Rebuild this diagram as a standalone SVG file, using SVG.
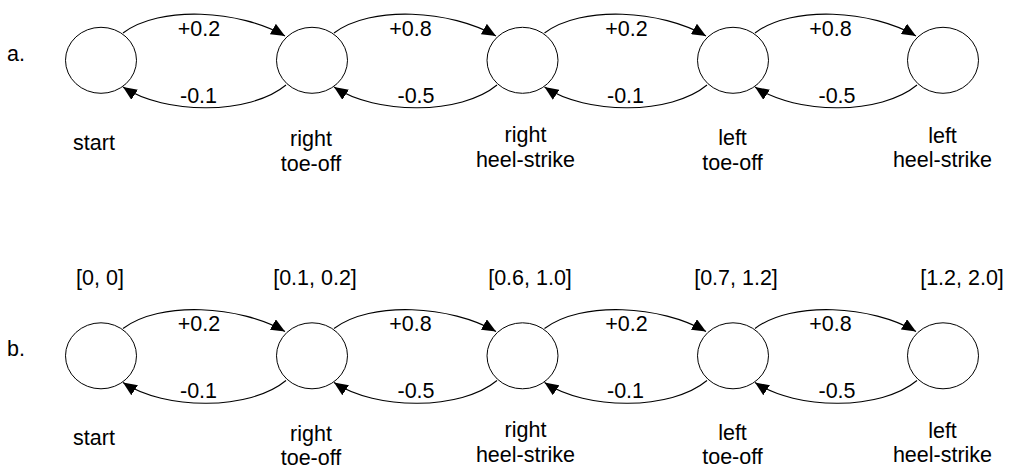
<svg xmlns="http://www.w3.org/2000/svg" width="1012" height="469" viewBox="0 0 1012 469">
<defs>
<style>
text{font-family:"Liberation Sans",Arial,sans-serif;font-size:21.5px;fill:#000}
.m{text-anchor:middle}
.n{fill:#fff;stroke:#000;stroke-width:1}
.e{fill:none;stroke:#000;stroke-width:1.1;marker-end:url(#ah)}
</style>
<marker id="ah" viewBox="0 0 14 12" refX="14" refY="6" markerWidth="14" markerHeight="12" markerUnits="userSpaceOnUse" orient="auto">
<path d="M0,0 L14,6 L0,12 Z" fill="#000"/>
</marker>
</defs>
<rect width="1012" height="469" fill="#fff"/>
<text x="7" y="61">a.</text>
<text x="7" y="356">b.</text>
<g id="connectors">
<g id="row-a-edges">
<path class="e" d="M123,33 C160,5 240,10 285,36"/>
<path class="e" d="M286,85 C250,115 165,115 123,87"/>
<path class="e" d="M334,33 C371,5 451,10 496,36"/>
<path class="e" d="M497,85 C461,115 376,115 334,87"/>
<path class="e" d="M544.5,33 C581.5,5 661.5,10 706,36"/>
<path class="e" d="M707,85 C671,115 586.5,115 544.5,87"/>
<path class="e" d="M755,33 C792,5 872,10 916,36"/>
<path class="e" d="M917,85 C881,115 797,115 755,87"/>
</g>
<g id="row-b-edges" transform="translate(0,295.5)">
<path class="e" d="M123,33 C160,5 240,10 285,36"/>
<path class="e" d="M286,85 C250,115 165,115 123,87"/>
<path class="e" d="M334,33 C371,5 451,10 496,36"/>
<path class="e" d="M497,85 C461,115 376,115 334,87"/>
<path class="e" d="M544.5,33 C581.5,5 661.5,10 706,36"/>
<path class="e" d="M707,85 C671,115 586.5,115 544.5,87"/>
<path class="e" d="M755,33 C792,5 872,10 916,36"/>
<path class="e" d="M917,85 C881,115 797,115 755,87"/>
</g>
</g>
<g id="edge-labels">
<text class="m" x="199" y="36">+0.2</text>
<text class="m" x="198.5" y="103">-0.1</text>
<text class="m" x="410.5" y="36">+0.8</text>
<text class="m" x="416" y="103">-0.5</text>
<text class="m" x="626.5" y="36">+0.2</text>
<text class="m" x="625.5" y="103">-0.1</text>
<text class="m" x="830.5" y="36">+0.8</text>
<text class="m" x="837" y="103">-0.5</text>
<text class="m" x="199" y="331">+0.2</text>
<text class="m" x="198.5" y="398">-0.1</text>
<text class="m" x="410.5" y="331">+0.8</text>
<text class="m" x="416" y="398">-0.5</text>
<text class="m" x="626.5" y="331">+0.2</text>
<text class="m" x="625.5" y="398">-0.1</text>
<text class="m" x="830.5" y="331">+0.8</text>
<text class="m" x="837" y="398">-0.5</text>
</g>
<g id="a-start"><ellipse class="n" cx="101" cy="60.3" rx="35.5" ry="33"/><text class="m" x="94" y="150">start</text></g>
<g id="a-right-toe-off"><ellipse class="n" cx="312" cy="60.3" rx="35.5" ry="33"/><text class="m" x="311" y="146">right</text><text class="m" x="311" y="171">toe-off</text></g>
<g id="a-right-heel-strike"><ellipse class="n" cx="522.5" cy="60.3" rx="35.5" ry="33"/><text class="m" x="525.5" y="142">right</text><text class="m" x="525.5" y="167">heel-strike</text></g>
<g id="a-left-toe-off"><ellipse class="n" cx="733" cy="60.3" rx="35.5" ry="33"/><text class="m" x="732.5" y="145">left</text><text class="m" x="732.5" y="170">toe-off</text></g>
<g id="a-left-heel-strike"><ellipse class="n" cx="943" cy="60.3" rx="35.5" ry="33"/><text class="m" x="942.5" y="143">left</text><text class="m" x="942.5" y="167">heel-strike</text></g>
<g id="b-start"><ellipse class="n" cx="101" cy="355.8" rx="35.5" ry="33"/><text class="m" x="100" y="285">[0, 0]</text><text class="m" x="94" y="445">start</text></g>
<g id="b-right-toe-off"><ellipse class="n" cx="312" cy="355.8" rx="35.5" ry="33"/><text class="m" x="315" y="285">[0.1, 0.2]</text><text class="m" x="311" y="441">right</text><text class="m" x="311" y="465">toe-off</text></g>
<g id="b-right-heel-strike"><ellipse class="n" cx="522.5" cy="355.8" rx="35.5" ry="33"/><text class="m" x="530" y="285">[0.6, 1.0]</text><text class="m" x="525.5" y="437">right</text><text class="m" x="525.5" y="462">heel-strike</text></g>
<g id="b-left-toe-off"><ellipse class="n" cx="733" cy="355.8" rx="35.5" ry="33"/><text class="m" x="736" y="285">[0.7, 1.2]</text><text class="m" x="732.5" y="440">left</text><text class="m" x="732.5" y="464">toe-off</text></g>
<g id="b-left-heel-strike"><ellipse class="n" cx="943" cy="355.8" rx="35.5" ry="33"/><text class="m" x="962" y="285">[1.2, 2.0]</text><text class="m" x="942.5" y="438">left</text><text class="m" x="942.5" y="462">heel-strike</text></g>
</svg>
